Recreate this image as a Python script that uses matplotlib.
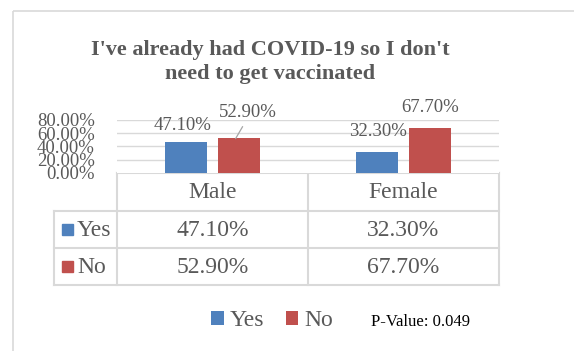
import matplotlib
matplotlib.use("Agg")
import matplotlib.pyplot as plt
from matplotlib.patches import Rectangle

# -----------------------------------------------------------------------------
# Data
# -----------------------------------------------------------------------------
title = "I've already had COVID-19 so I don't\nneed to get vaccinated"
groups = ["Male", "Female"]
series = ["Yes", "No"]
yes_vals = [47.10, 32.30]
no_vals = [52.90, 67.70]
yticks = [0, 20, 40, 60, 80]
p_value = "P-Value: 0.049"

BLUE = "#4F81BD"
RED = "#C0504D"
TXT = "#595959"
GRID = "#D9D9D9"
FONT = "Liberation Serif"

W, H = 574, 351
fig = plt.figure(figsize=(W / 100, H / 100), dpi=100)

def fx(px):
    return px / W

def fy(py):
    return 1 - py / H

# -----------------------------------------------------------------------------
# Bar area
# -----------------------------------------------------------------------------
x0, x1, ytop, ybot = 117, 499, 120, 173
ax = fig.add_axes([fx(x0), fy(ybot), fx(x1 - x0), (ybot - ytop) / H])
ax.set_xlim(-0.5, len(groups) - 0.5)
ax.set_ylim(0, 80)

off, bw = 0.141, 0.22
xs = range(len(groups))
b_yes = ax.bar([x - off for x in xs], yes_vals, bw, color=BLUE, zorder=3, label=series[0])
b_no = ax.bar([x + off for x in xs], no_vals, bw, color=RED, zorder=3, label=series[1])

for y in yticks[1:]:
    ax.axhline(y, color=GRID, lw=1, zorder=1)
for s in ax.spines.values():
    s.set_visible(False)
ax.set_xticks([])
ax.set_yticks(yticks)
ax.set_yticklabels([f"{v:.2f}%" for v in yticks], fontfamily=FONT, fontsize=13.5, color=TXT)
ax.tick_params(axis="y", length=0, pad=16)

# data labels (offsets in pixels)
lab_off = {(0, 0): (-3, 16), (0, 1): (8, 25), (1, 0): (1, 20), (1, 1): (0, 21)}
for si, (bars, vals) in enumerate([(b_yes, yes_vals), (b_no, no_vals)]):
    for gi, (b, v) in enumerate(zip(bars, vals)):
        dx, dy = lab_off[(gi, si)]
        ax.annotate(f"{v:.2f}%", (b.get_x() + b.get_width() / 2, v),
                    xytext=(dx * 0.72, dy * 0.72), textcoords="offset points",
                    ha="center", va="center", fontfamily=FONT, fontsize=13.5,
                    color=TXT, annotation_clip=False)
# leader line for Male / No label
ax.annotate("", (b_no[0].get_x() + b_no[0].get_width() / 2 - 0.02, no_vals[0] - 1),
            xytext=(7 * 0.72, 12 * 0.72), textcoords="offset points",
            arrowprops=dict(arrowstyle="-", color="#A6A6A6", lw=0.9,
                            shrinkA=0, shrinkB=0))

# -----------------------------------------------------------------------------
# Overlay: frame, title, data table, legend
# -----------------------------------------------------------------------------
ov = fig.add_axes([0, 0, 1, 1], zorder=-1)
ov.set_xlim(0, W)
ov.set_ylim(H, 0)
ov.axis("off")

ov.add_patch(Rectangle((13, 11), W, H, fill=False, ec=GRID, lw=1.2))

ov.text(270, 62, title, ha="center", va="center", fontfamily=FONT,
        fontweight="bold", fontsize=16, color=TXT, linespacing=1.25)

# table grid
xl, xc = 54, 308
rows = [173, 211, 248, 285]
kw = dict(color=GRID, lw=1.5, solid_capstyle="projecting")
ov.plot([x0, x1], [rows[0], rows[0]], **kw)
for r in rows[1:]:
    ov.plot([xl, x1], [r, r], **kw)
ov.plot([xl, xl], [rows[1], rows[3]], **kw)
ov.plot([x0, x0], [rows[0], rows[3]], **kw)
ov.plot([xc, xc], [rows[0], rows[3]], **kw)
ov.plot([x1, x1], [rows[0], rows[3]], **kw)

cx = [(x0 + xc) / 2, (xc + x1) / 2]
tkw = dict(ha="center", va="center", fontfamily=FONT, fontsize=17, color=TXT)
for g, c in zip(groups, cx):
    ov.text(c, (rows[0] + rows[1]) / 2 + 1, g, **tkw)
for ri, (name, vals, col) in enumerate([(series[0], yes_vals, BLUE), (series[1], no_vals, RED)]):
    yc = (rows[ri + 1] + rows[ri + 2]) / 2
    ov.add_patch(Rectangle((62, yc - 6), 11, 11, color=col))
    ov.text(77, yc + 1, name, ha="left", va="center", fontfamily=FONT, fontsize=17, color=TXT)
    for v, c in zip(vals, cx):
        ov.text(c, yc + 1, f"{v:.2f}%", **tkw)

leg = fig.legend(handles=[b_yes, b_no], labels=series, loc="center",
                 bbox_to_anchor=(fx(272), fy(321)), ncol=2, frameon=False,
                 prop=dict(family=FONT, size=17), handlelength=0.55, handleheight=0.55,
                 handletextpad=0.25, columnspacing=0.9, borderpad=0)
for t in leg.get_texts():
    t.set_color(TXT)

fig.text(fx(371), fy(322), p_value, ha="left", va="center", fontfamily=FONT,
         fontsize=12, color="black")

fig.savefig("out.png", dpi=100)
